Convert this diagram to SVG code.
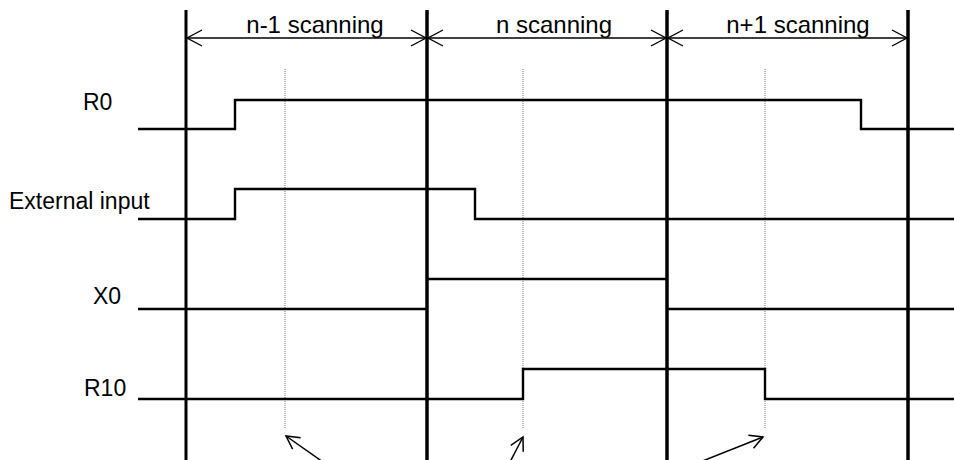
<svg xmlns="http://www.w3.org/2000/svg" width="954" height="460" viewBox="0 0 954 460">
<style>
.bound{stroke:#000;stroke-width:3;fill:none}
.sig{stroke:#000;stroke-width:2.4;fill:none}
.dim{stroke:#000;stroke-width:1.3;fill:none}
.dot{stroke:#777;stroke-width:1;stroke-dasharray:1 1;fill:none}
.arr{stroke:#000;stroke-width:1.5;fill:none}
text{font-family:"Liberation Sans",Arial,sans-serif;font-size:23px;fill:#000}
.top{text-anchor:middle;font-size:24px}
</style>
<defs>
<marker id="ah" viewBox="-20 -10 22 20" refX="0" refY="0" markerWidth="22" markerHeight="20" markerUnits="userSpaceOnUse" orient="auto-start-reverse">
<path d="M-15,-8 L0,0 L-15,8" fill="none" stroke="#000" stroke-width="1.4"/>
</marker>
<marker id="ah2" viewBox="-20 -10 22 20" refX="0" refY="0" markerWidth="22" markerHeight="20" markerUnits="userSpaceOnUse" orient="auto">
<path d="M-13,-7 L0,0 L-13,7" fill="none" stroke="#000" stroke-width="1.5"/>
</marker>
</defs>
<rect width="954" height="460" fill="#fff"/>
<g id="boundaries">
<line class="bound" x1="186" y1="10" x2="186" y2="460"/>
<line class="bound" x1="427" y1="10" x2="427" y2="460" style="stroke-width:3.5"/>
<line class="bound" x1="667" y1="10" x2="667" y2="460" style="stroke-width:3.5"/>
<line class="bound" x1="908" y1="10" x2="908" y2="460" style="stroke-width:3.5"/>
</g>
<g id="scan-nm1">
<line class="dim" x1="187" y1="38" x2="426" y2="38" marker-start="url(#ah)" marker-end="url(#ah)"/>
<text class="top" x="315" y="33">n-1 scanning</text>
</g>
<g id="scan-n">
<line class="dim" x1="428" y1="38" x2="666" y2="38" marker-start="url(#ah)" marker-end="url(#ah)"/>
<text class="top" x="554" y="33">n scanning</text>
</g>
<g id="scan-np1">
<line class="dim" x1="668" y1="38" x2="907" y2="38" marker-start="url(#ah)" marker-end="url(#ah)"/>
<text class="top" x="798" y="33">n+1 scanning</text>
</g>
<g id="dotted">
<line class="dot" x1="285" y1="69" x2="285" y2="428"/>
<line class="dot" x1="523" y1="69" x2="523" y2="428"/>
<line class="dot" x1="765" y1="69" x2="765" y2="428"/>
</g>
<g id="R0">
<text x="83" y="110">R0</text>
<polyline class="sig" points="138,129 235,129 235,100 861,100 861,129 954,129"/>
</g>
<g id="ExternalInput">
<text x="9" y="209">External input</text>
<polyline class="sig" points="138,219 235,219 235,189 475,189 475,219 954,219"/>
</g>
<g id="X0">
<text x="93" y="304">X0</text>
<polyline class="sig" points="138,309 427,309"/>
<polyline class="sig" points="427,279 667,279"/>
<polyline class="sig" points="667,309 954,309"/>
</g>
<g id="R10">
<text x="84" y="396">R10</text>
<polyline class="sig" points="138,399 523,399 523,369 765,369 765,399 954,399"/>
</g>
<g id="connectors">
<line class="arr" x1="323" y1="462" x2="286" y2="436" marker-end="url(#ah2)"/>
<line class="arr" x1="510" y1="462" x2="523" y2="437" marker-end="url(#ah2)"/>
<line class="arr" x1="700" y1="462" x2="763" y2="437" marker-end="url(#ah2)"/>
</g>
</svg>
